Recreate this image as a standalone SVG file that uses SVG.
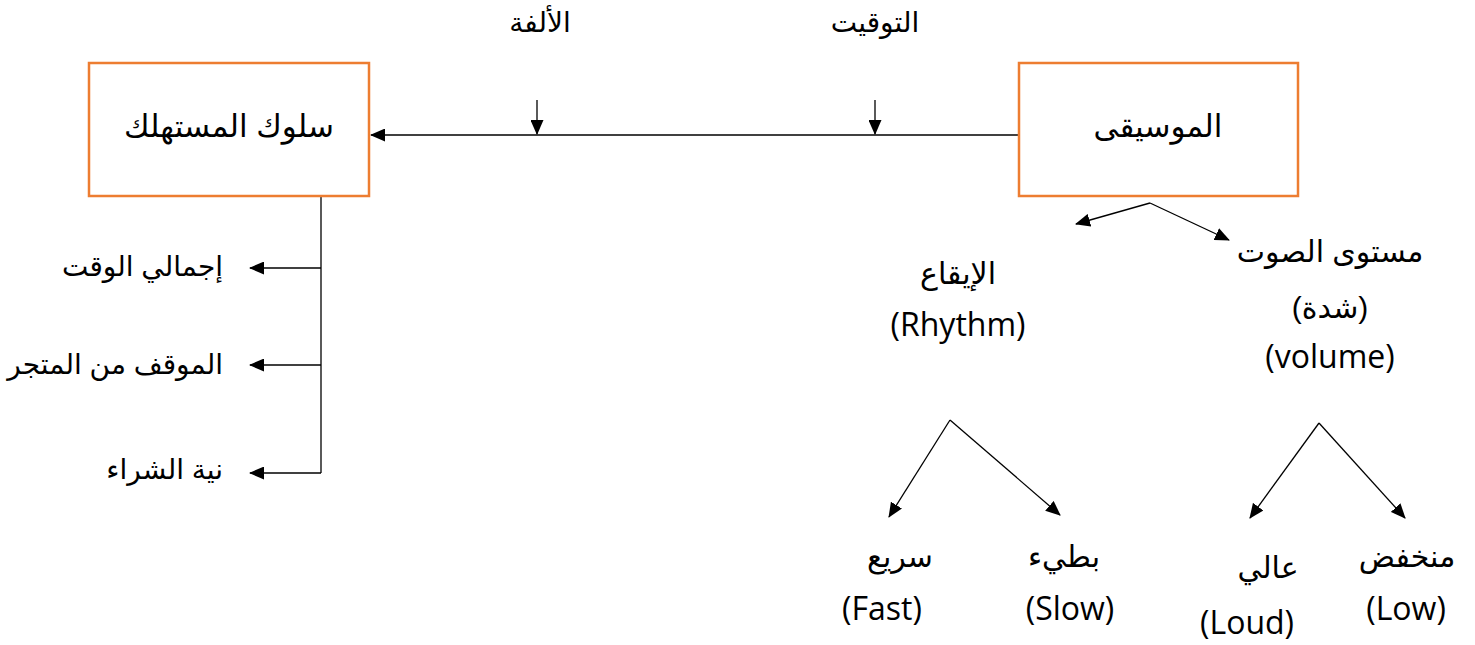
<svg xmlns="http://www.w3.org/2000/svg" width="1475" height="645" viewBox="0 0 1475 645">
<style>
.box{fill:#fff;stroke:#ED7D31;stroke-width:2.5}
.ln{fill:none;stroke:#000;stroke-width:1.3}
.ar{font-family:"Liberation Sans","DejaVu Sans",sans-serif;font-size:28px;fill:#000}
.ar2{font-family:"Liberation Sans","DejaVu Sans",sans-serif;font-size:30px;fill:#000}
.bx{font-family:"Liberation Sans","DejaVu Sans",sans-serif;font-size:31px;fill:#000}
.en{font-family:"Open Sans","Liberation Sans",sans-serif;font-size:32px;fill:#000}
</style>
<defs>
<marker id="ah" markerWidth="15" markerHeight="13" refX="14" refY="6.5" orient="auto" markerUnits="userSpaceOnUse">
<path d="M0,0 L15,6.5 L0,13 Z" fill="#000"/>
</marker>
</defs>
<rect width="1475" height="645" fill="#fff"/>
<g id="connectors">
<line class="ln" x1="1019" y1="135" x2="371" y2="135" marker-end="url(#ah)"/>
<line class="ln" x1="537" y1="100" x2="537" y2="134" marker-end="url(#ah)"/>
<line class="ln" x1="875" y1="100" x2="875" y2="134" marker-end="url(#ah)"/>
<polyline class="ln" points="321,196 321,473"/>
<line class="ln" x1="321" y1="268" x2="250" y2="268" marker-end="url(#ah)"/>
<line class="ln" x1="321" y1="365" x2="250" y2="365" marker-end="url(#ah)"/>
<line class="ln" x1="321" y1="473" x2="250" y2="473" marker-end="url(#ah)"/>
<line class="ln" x1="1150" y1="203" x2="1076" y2="224" marker-end="url(#ah)"/>
<line class="ln" x1="1150" y1="203" x2="1229" y2="240" marker-end="url(#ah)"/>
<line class="ln" x1="950" y1="420" x2="889" y2="517" marker-end="url(#ah)"/>
<line class="ln" x1="950" y1="420" x2="1060" y2="515" marker-end="url(#ah)"/>
<line class="ln" x1="1319" y1="423" x2="1250" y2="518" marker-end="url(#ah)"/>
<line class="ln" x1="1319" y1="423" x2="1405" y2="518" marker-end="url(#ah)"/>
</g>
<g id="consumer">
<rect class="box" x="89" y="63" width="280" height="133"/>
<text class="bx" x="229" y="137" text-anchor="middle">سلوك المستهلك</text>
</g>
<g id="music">
<rect class="box" x="1019" y="63" width="279" height="133"/>
<text class="bx" x="1158" y="137" text-anchor="middle">الموسيقى</text>
</g>
<g id="familiarity"><text class="ar" x="540" y="32" text-anchor="middle">الألفة</text></g>
<g id="timing"><text class="ar" x="875" y="32" text-anchor="middle">التوقيت</text></g>
<g id="total-time"><text class="ar" x="223" y="276" text-anchor="end">إجمالي الوقت</text></g>
<g id="attitude"><text class="ar" x="223" y="374" text-anchor="end">الموقف من المتجر</text></g>
<g id="intent"><text class="ar" x="223" y="479" text-anchor="end">نية الشراء</text></g>
<g id="rhythm">
<text class="ar2" x="958" y="284" text-anchor="middle">الإيقاع</text>
<text class="en" x="958" y="336" text-anchor="middle">(Rhythm)</text>
</g>
<g id="volume">
<text class="ar2" x="1330" y="262" text-anchor="middle">مستوى الصوت</text>
<text class="ar2" x="1330" y="318" text-anchor="middle">(شدة)</text>
<text class="en" x="1330" y="368" text-anchor="middle">(volume)</text>
</g>
<g id="fast">
<text class="ar2" x="900" y="567" text-anchor="middle">سريع</text>
<text class="en" x="882" y="620" text-anchor="middle">(Fast)</text>
</g>
<g id="slow">
<text class="ar2" x="1064" y="567" text-anchor="middle">بطيء</text>
<text class="en" x="1070" y="620" text-anchor="middle">(Slow)</text>
</g>
<g id="loud">
<text class="ar2" x="1268" y="578" text-anchor="middle">عالي</text>
<text class="en" x="1247" y="634" text-anchor="middle">(Loud)</text>
</g>
<g id="low">
<text class="ar2" x="1407" y="567" text-anchor="middle">منخفض</text>
<text class="en" x="1406" y="620" text-anchor="middle">(Low)</text>
</g>
</svg>
